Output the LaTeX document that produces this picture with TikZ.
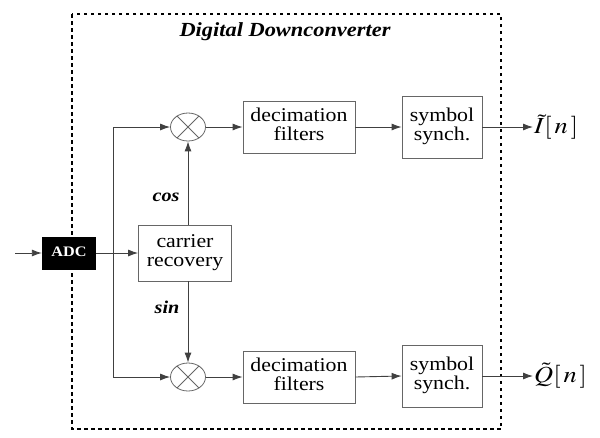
\documentclass[tikz,border=0pt]{standalone}
\usepackage{mathptmx}
\usepackage{fontspec}
\usepackage{graphicx}
\setmainfont{Liberation Serif}
\newfontfamily\termes{Liberation Serif}
\usetikzlibrary{shapes.geometric,arrows.meta}
\newcommand{\wide}[1]{\scalebox{1.12}[1]{\begin{tabular}{@{}c@{}}#1\end{tabular}}}
\tikzset{blk/.style={draw=black!60,line width=0.8pt,align=center,font=\termes\fontsize{19.5}{19.5}\selectfont,inner sep=0pt},
 mult/.style={draw=black!60,line width=0.8pt,ellipse,minimum width=35pt,minimum height=28pt,inner sep=0pt},
 wire/.style={draw=black!75,line width=0.9pt,-{Latex[length=10pt,width=7pt]}},
 adcbox/.style={fill=black,text=white,font=\termes\fontsize{14.5}{15}\selectfont\bfseries,minimum width=54pt,minimum height=33pt,inner sep=0pt},
 lbl/.style={font=\termes\fontsize{18}{20}\selectfont\bfseries\itshape},
 }

\begin{document}
\begin{tikzpicture}[x=1pt,y=-1pt]
        \useasboundingbox (0,0) rectangle (600,437);
        \draw[line width=2.4pt,dash pattern=on 3.5pt off 3.5pt] (72,14) rectangle (501,429);
        \node[lbl,font=\termes\fontsize{20}{22}\selectfont\bfseries\itshape] (title) at (285,32) {\wide{Digital Downconverter}};

        \node[adcbox] (adc) at (69,253) {\wide{ADC}};
        \node[blk,minimum width=93pt,minimum height=56pt] (carrier) at (185,253) {\wide{carrier\\recovery}};
        \node[mult] (mtop) at (188,127) {};
        \node[mult] (mbot) at (188,377) {};
        \node[blk,minimum width=112pt,minimum height=52pt] (dectop) at (299,127) {\wide{decimation\\filters}};
        \node[blk,minimum width=112pt,minimum height=52pt] (decbot) at (299,377) {\wide{decimation\\filters}};
        \node[blk,minimum width=80pt,minimum height=62pt] (symtop) at (442,127) {\wide{symbol\\synch.}};
        \node[blk,minimum width=80pt,minimum height=62pt] (symbot) at (442,376) {\wide{symbol\\synch.}};
        \node[lbl] (cos) at (166,197) {\wide{cos}};
        \node[lbl] (sin) at (167,309) {\wide{sin}};

        \coordinate (in) at (15,253);
        \coordinate (split) at (113,253);
        \coordinate (itop) at (533,127);
        \coordinate (qbot) at (533,376);
        \node[anchor=west,inner sep=1pt] (iout) at (itop) {\scalebox{1.15}[1]{\fontsize{23}{25}\selectfont$\tilde{I}[\,n\,]$}};
        \node[anchor=west,inner sep=1pt] (qout) at (qbot) {\scalebox{1.15}[1]{\fontsize{23}{25}\selectfont$\tilde{Q}[\,n\,]$}};

        % multiplier crosses
        \foreach \m in {mtop,mbot} {
            \draw[black!60,line width=0.8pt] (\m.45) -- (\m.225);
            \draw[black!60,line width=0.8pt] (\m.135) -- (\m.315);
        }

        \draw[wire] (in) -- (adc.west);
        \draw[wire] (adc.east) -- (carrier.west);
        \draw[wire] (split) |- (mtop.west);
        \draw[wire] (split) |- (mbot.west);
        \draw[wire] (carrier.north -| mtop) -- (mtop.south);
        \draw[wire] (carrier.south -| mbot) -- (mbot.north);
        \draw[wire] (mtop.east) -- (dectop.west);
        \draw[wire] (mbot.east) -- (decbot.west);
        \draw[wire] (dectop.east) -- (symtop.west);
        \draw[wire] (decbot.east) -- (symbot.west);
        \draw[wire] (symtop.east) -- (itop);
        \draw[wire] (symbot.east) -- (qbot);
    \end{tikzpicture}
\end{document}
